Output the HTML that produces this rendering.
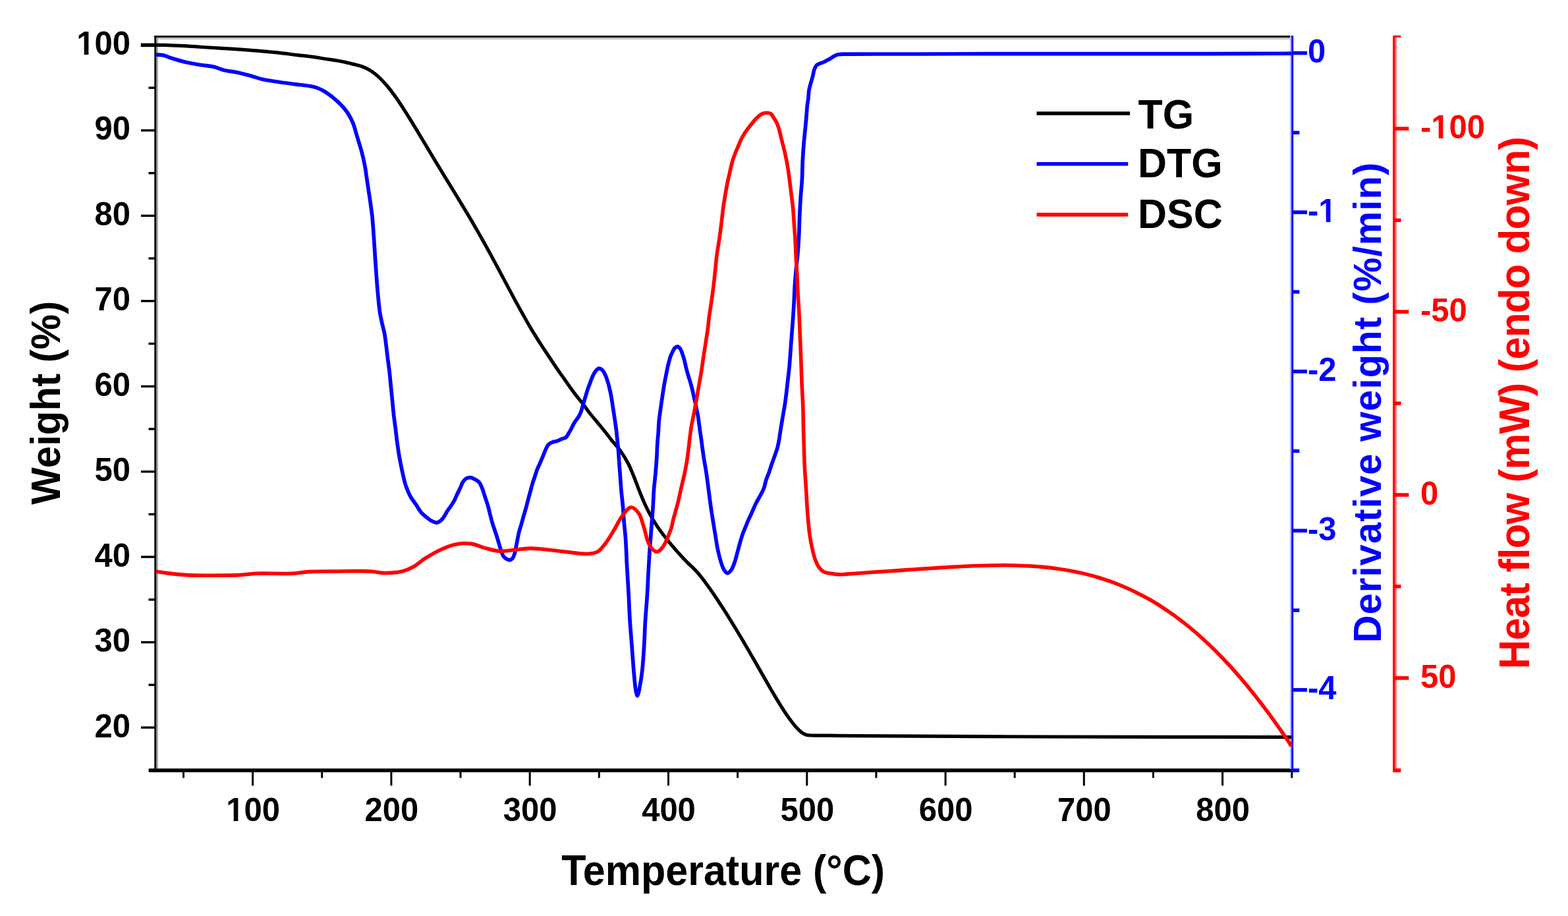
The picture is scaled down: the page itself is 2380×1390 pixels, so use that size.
<!DOCTYPE html>
<html><head><meta charset="utf-8"><title>TG / DTG / DSC</title>
<style>
html,body{margin:0;padding:0;background:#fff;}
body{width:2380px;height:1390px;overflow:hidden;}
svg{display:block;}
</style></head>
<body>
<svg width="2380" height="1390" viewBox="0 0 2380 1390">
<rect width="2380" height="1390" fill="#fff"/>
<rect x="234" y="57" width="1726" height="3" fill="#c8c8c8"/>
<rect x="234" y="54" width="1727" height="3" fill="#000"/>
<rect x="237" y="57" width="3" height="1109" fill="#a8a8a8"/>
<rect x="234.3" y="54" width="2.9" height="1118" fill="#000"/>
<rect x="226" y="1166.2" width="1737" height="5.6" fill="#000"/>
<rect x="225.5" y="1167.0" width="10" height="3.4" fill="#000"/>
<rect x="214" y="1102.3" width="21" height="3.4" fill="#000"/>
<rect x="225.5" y="1037.6" width="10" height="3.4" fill="#000"/>
<rect x="214" y="972.9" width="21" height="3.4" fill="#000"/>
<rect x="225.5" y="908.2" width="10" height="3.4" fill="#000"/>
<rect x="214" y="843.4" width="21" height="3.4" fill="#000"/>
<rect x="225.5" y="778.7" width="10" height="3.4" fill="#000"/>
<rect x="214" y="714.0" width="21" height="3.4" fill="#000"/>
<rect x="225.5" y="649.3" width="10" height="3.4" fill="#000"/>
<rect x="214" y="584.6" width="21" height="3.4" fill="#000"/>
<rect x="225.5" y="519.8" width="10" height="3.4" fill="#000"/>
<rect x="214" y="455.1" width="21" height="3.4" fill="#000"/>
<rect x="225.5" y="390.4" width="10" height="3.4" fill="#000"/>
<rect x="214" y="325.7" width="21" height="3.4" fill="#000"/>
<rect x="225.5" y="261.0" width="10" height="3.4" fill="#000"/>
<rect x="214" y="196.2" width="21" height="3.4" fill="#000"/>
<rect x="225.5" y="131.5" width="10" height="3.4" fill="#000"/>
<rect x="213.8" y="65.6" width="22" height="5.6" fill="#000"/>
<rect x="277.0" y="1171" width="3" height="9.5" fill="#000"/>
<rect x="382.1" y="1171" width="3" height="21.3" fill="#000"/>
<rect x="487.2" y="1171" width="3" height="9.5" fill="#000"/>
<rect x="592.4" y="1171" width="3" height="21.3" fill="#000"/>
<rect x="697.5" y="1171" width="3" height="9.5" fill="#000"/>
<rect x="802.7" y="1171" width="3" height="21.3" fill="#000"/>
<rect x="907.8" y="1171" width="3" height="9.5" fill="#000"/>
<rect x="1013.0" y="1171" width="3" height="21.3" fill="#000"/>
<rect x="1118.1" y="1171" width="3" height="9.5" fill="#000"/>
<rect x="1223.3" y="1171" width="3" height="21.3" fill="#000"/>
<rect x="1328.4" y="1171" width="3" height="9.5" fill="#000"/>
<rect x="1433.6" y="1171" width="3" height="21.3" fill="#000"/>
<rect x="1538.7" y="1171" width="3" height="9.5" fill="#000"/>
<rect x="1643.8" y="1171" width="3" height="21.3" fill="#000"/>
<rect x="1749.0" y="1171" width="3" height="9.5" fill="#000"/>
<rect x="1854.1" y="1171" width="3" height="21.3" fill="#000"/>
<rect x="1959.3" y="1171" width="3" height="9.5" fill="#000"/>
<rect x="1958" y="54" width="2.4" height="1113" fill="#b4b4ff"/>
<rect x="1960.2" y="54" width="3" height="1117.5" fill="#0000ff"/>
<rect x="1960.2" y="1166.2" width="12" height="5.6" fill="#0000ff"/>
<rect x="1962" y="77.7" width="22" height="5.6" fill="#0000ff"/>
<rect x="1962" y="198.6" width="10.4" height="5.4" fill="#0000ff"/>
<rect x="1962" y="319.3" width="22" height="5.6" fill="#0000ff"/>
<rect x="1962" y="440.2" width="10.4" height="5.4" fill="#0000ff"/>
<rect x="1962" y="560.9" width="22" height="5.6" fill="#0000ff"/>
<rect x="1962" y="681.8" width="10.4" height="5.4" fill="#0000ff"/>
<rect x="1962" y="802.5" width="22" height="5.6" fill="#0000ff"/>
<rect x="1962" y="923.4" width="10.4" height="5.4" fill="#0000ff"/>
<rect x="1962" y="1044.1" width="22" height="5.6" fill="#0000ff"/>
<rect x="2117" y="54" width="3" height="1118" fill="#ff8080"/>
<rect x="2114.1" y="54" width="3.3" height="1118" fill="#ff0000"/>
<rect x="2117" y="53.8" width="9.3" height="3" fill="#ff0000"/>
<rect x="2117" y="192.4" width="21.3" height="5.6" fill="#ff0000"/>
<rect x="2117" y="331.5" width="9.5" height="5.4" fill="#ff0000"/>
<rect x="2117" y="470.3" width="21.3" height="5.6" fill="#ff0000"/>
<rect x="2117" y="609.3" width="9.5" height="5.4" fill="#ff0000"/>
<rect x="2117" y="748.2" width="21.3" height="5.6" fill="#ff0000"/>
<rect x="2117" y="887.2" width="9.5" height="5.4" fill="#ff0000"/>
<rect x="2117" y="1026.1" width="21.3" height="5.6" fill="#ff0000"/>
<rect x="2117" y="1166.1" width="9.3" height="5.8" fill="#ff0000"/>
<g fill="none" stroke-linejoin="round" stroke-linecap="butt">
<path d="M237.0,68.3 C241.1,68.3 244.3,68.3 249.3,68.4 C257.2,68.6 270.1,69.1 280.0,69.6 C289.4,70.1 296.9,70.8 307.3,71.5 C321.0,72.4 340.3,73.4 355.2,74.4 C368.3,75.3 380.6,76.2 392.2,77.2 C402.6,78.1 412.0,78.9 421.6,79.9 C431.0,80.9 440.4,82.2 449.3,83.3 C457.7,84.3 466.1,85.0 473.7,86.1 C480.5,87.0 486.6,88.2 493.0,89.2 C499.2,90.2 505.8,91.0 511.5,92.0 C516.4,92.8 521.1,93.7 525.0,94.6 C528.0,95.3 530.3,96.0 533.0,96.6 C535.7,97.2 538.3,97.7 541.0,98.4 C543.7,99.1 546.4,99.8 549.0,100.7 C551.7,101.7 554.4,102.8 557.0,104.1 C559.7,105.5 562.4,107.0 565.0,108.8 C567.7,110.7 570.4,112.8 573.0,115.1 C575.7,117.5 578.4,120.1 581.0,122.9 C583.7,125.8 586.4,128.8 589.0,132.0 C591.7,135.3 594.4,138.8 597.0,142.4 C599.7,146.1 602.4,149.8 605.0,153.7 C607.7,157.6 610.4,161.7 613.0,165.8 C615.7,170.0 618.3,174.2 621.0,178.5 C623.7,182.8 626.3,187.2 629.0,191.6 C631.7,196.0 634.3,200.4 637.0,204.8 C639.7,209.2 642.3,213.7 645.0,218.2 C647.7,222.6 650.3,227.1 653.0,231.5 C655.7,235.9 658.3,240.4 661.0,244.8 C663.7,249.2 666.3,253.6 669.0,258.0 C671.7,262.4 674.3,266.7 677.0,271.1 C679.7,275.4 682.3,279.8 685.0,284.1 C687.7,288.5 690.3,292.8 693.0,297.2 C695.7,301.6 698.3,306.0 701.0,310.4 C703.7,314.8 706.3,319.2 709.0,323.7 C711.7,328.2 714.3,332.7 717.0,337.2 C719.7,341.8 722.3,346.4 725.0,351.0 C727.7,355.7 730.3,360.4 733.0,365.1 C735.7,369.9 738.3,374.7 741.0,379.5 C743.7,384.4 746.3,389.3 749.0,394.2 C751.7,399.1 754.3,404.1 757.0,409.1 C759.7,414.1 762.3,419.1 765.0,424.1 C767.7,429.1 770.3,434.1 773.0,439.1 C775.7,444.1 778.3,449.1 781.0,454.1 C783.7,459.0 786.3,463.9 789.0,468.7 C791.7,473.5 794.3,478.3 797.0,483.0 C799.6,487.7 802.3,492.3 805.0,496.8 C807.6,501.3 810.3,505.7 813.0,510.0 C815.6,514.3 818.3,518.5 821.0,522.7 C823.6,526.8 825.8,530.1 829.0,534.8 C833.5,541.6 840.8,552.7 845.5,559.5 C848.9,564.5 851.5,567.9 854.5,572.2 C857.5,576.5 860.6,580.9 863.6,585.2 C866.6,589.4 869.3,593.2 872.6,597.6 C876.5,602.7 881.8,609.0 885.6,614.0 C888.6,618.0 890.6,621.2 893.6,625.0 C897.0,629.4 901.3,634.4 905.1,639.0 C908.9,643.6 912.8,648.1 916.6,652.8 C920.5,657.7 924.2,662.8 928.2,667.8 C932.3,672.9 937.0,677.5 941.1,683.2 C945.6,689.4 950.0,696.6 953.7,703.7 C957.4,710.8 960.2,718.6 963.2,725.9 C966.0,732.9 968.4,739.8 971.1,746.5 C973.7,753.0 976.3,759.5 979.1,765.5 C981.7,771.1 984.1,776.1 987.0,781.3 C989.9,786.6 993.0,791.8 996.5,797.1 C1000.3,802.8 1004.9,809.0 1009.1,814.5 C1013.1,819.7 1017.9,825.3 1021.2,829.2 C1023.4,831.9 1025.0,833.7 1026.9,835.9 C1028.8,838.1 1030.7,840.1 1032.7,842.2 C1034.8,844.4 1036.9,846.9 1039.0,849.1 C1041.1,851.3 1043.1,853.4 1045.3,855.5 C1047.5,857.6 1049.9,859.5 1052.2,861.8 C1054.8,864.4 1057.6,867.4 1060.0,870.2 C1062.2,872.7 1064.0,875.1 1066.0,877.7 C1068.0,880.3 1070.0,883.0 1072.0,885.7 C1074.0,888.5 1076.0,891.3 1078.0,894.1 C1080.0,897.0 1082.0,899.9 1084.0,902.8 C1086.0,905.7 1088.0,908.7 1090.0,911.7 C1092.0,914.7 1094.0,917.8 1096.0,920.9 C1098.0,924.0 1100.0,927.1 1102.0,930.2 C1104.0,933.4 1106.0,936.6 1108.0,939.8 C1110.0,943.0 1112.0,946.3 1114.0,949.6 C1116.0,952.9 1118.0,956.2 1120.0,959.5 C1122.0,962.8 1124.0,966.1 1126.0,969.5 C1128.0,972.9 1130.0,976.3 1132.0,979.7 C1134.0,983.1 1136.0,986.6 1138.0,990.0 C1140.0,993.5 1142.0,996.9 1144.0,1000.4 C1146.0,1003.9 1148.0,1007.4 1150.0,1010.9 C1152.0,1014.4 1154.0,1017.9 1156.0,1021.4 C1158.0,1024.9 1160.0,1028.4 1162.0,1031.9 C1164.0,1035.4 1166.0,1038.9 1168.0,1042.4 C1170.0,1045.8 1172.0,1049.2 1174.0,1052.6 C1176.0,1056.0 1178.0,1059.4 1180.0,1062.7 C1182.0,1066.0 1184.0,1069.2 1186.0,1072.4 C1188.0,1075.5 1190.0,1078.7 1192.0,1081.7 C1194.0,1084.6 1196.0,1087.5 1198.0,1090.3 C1200.0,1093.0 1202.0,1095.7 1204.0,1098.2 C1206.0,1100.6 1207.8,1103.0 1210.0,1105.2 C1212.3,1107.5 1214.9,1110.2 1217.4,1111.9 C1219.4,1113.3 1221.2,1114.2 1223.4,1114.9 C1226.0,1115.7 1228.3,1115.8 1232.0,1116.0 C1238.6,1116.4 1249.8,1116.1 1260.0,1116.2 C1272.1,1116.3 1280.5,1116.5 1300.0,1116.6 C1353.5,1117.0 1495.4,1117.7 1600.0,1118.0 C1714.5,1118.4 1840.0,1118.4 1960.0,1118.6" stroke="#000000" stroke-width="5.2"/>
<path d="M237.0,83.1 C240.3,83.3 243.3,82.9 246.8,83.6 C251.0,84.4 255.3,86.7 260.3,88.3 C266.3,90.2 273.5,92.4 280.4,94.0 C287.5,95.7 295.0,97.0 302.3,98.2 C309.6,99.4 317.4,99.7 324.1,101.3 C330.1,102.7 335.1,105.4 340.9,106.8 C346.9,108.2 353.0,108.4 359.4,109.7 C366.4,111.1 374.5,113.3 381.3,115.2 C387.3,116.9 391.9,118.8 398.1,120.3 C405.6,122.1 414.9,123.2 423.3,124.5 C431.7,125.7 440.1,126.7 448.5,127.8 C456.9,128.9 467.8,130.0 473.7,131.2 C477.0,131.9 478.7,132.3 481.3,133.3 C484.2,134.4 487.4,135.9 490.4,137.6 C493.5,139.3 496.4,141.3 499.4,143.4 C502.5,145.6 505.5,148.0 508.5,150.6 C511.6,153.2 514.7,156.1 517.5,159.0 C520.3,161.9 522.9,164.8 525.3,168.0 C527.7,171.3 529.9,174.8 531.8,178.4 C533.8,182.1 535.5,186.0 537.0,190.0 C538.5,194.2 539.5,198.7 540.8,203.0 C542.1,207.3 543.4,211.6 544.7,215.9 C546.0,220.2 547.4,224.6 548.6,228.9 C549.8,233.2 550.8,237.5 551.8,241.8 C552.8,246.1 553.6,250.3 554.4,254.8 C555.2,259.5 555.7,264.2 556.5,269.4 C557.4,275.4 558.4,282.3 559.4,288.8 C560.4,295.3 561.4,301.8 562.3,308.3 C563.2,314.8 564.1,320.6 564.9,327.7 C565.8,336.4 566.5,347.1 567.2,356.8 C567.9,366.5 568.5,376.2 569.1,385.9 C569.8,395.6 570.4,405.3 571.1,415.0 C571.8,424.7 572.5,434.5 573.4,444.2 C574.3,453.9 575.2,464.6 576.5,473.3 C577.6,480.4 579.1,486.9 580.4,492.7 C581.5,497.6 582.7,501.4 583.6,506.0 C584.5,511.0 585.1,516.0 585.8,521.6 C586.7,528.2 587.5,535.9 588.4,543.1 C589.3,550.3 590.4,557.5 591.2,564.7 C592.0,571.9 592.6,579.1 593.3,586.3 C594.0,593.5 594.8,600.6 595.5,607.8 C596.2,615.0 596.8,622.2 597.6,629.4 C598.4,636.6 599.5,643.7 600.4,650.9 C601.3,658.1 602.0,665.3 603.0,672.5 C604.0,679.7 605.0,686.9 606.3,694.1 C607.6,701.3 609.0,708.4 610.6,715.6 C612.2,722.8 613.8,730.7 616.0,737.2 C617.9,742.8 619.8,747.6 622.4,752.3 C624.9,756.9 628.2,760.9 631.1,765.2 C634.0,769.5 636.6,774.6 639.7,778.2 C642.4,781.2 645.6,783.5 648.3,785.6 C650.5,787.4 652.2,789.0 654.5,790.2 C656.9,791.5 660.1,793.3 662.6,793.1 C664.9,793.0 667.1,791.4 669.0,789.9 C671.1,788.3 672.8,785.7 674.4,783.4 C676.0,781.0 677.1,778.3 678.7,775.8 C680.3,773.2 682.3,770.9 684.1,768.3 C685.9,765.6 687.9,762.7 689.5,759.7 C691.2,756.6 692.4,753.0 693.9,749.9 C695.3,746.9 696.8,744.3 698.2,741.3 C699.7,738.2 700.7,734.3 702.5,731.6 C704.0,729.3 705.8,727.1 707.9,725.9 C709.8,724.8 712.3,724.4 714.4,724.6 C716.6,724.8 718.7,726.2 720.8,727.3 C723.0,728.5 725.5,729.8 727.3,731.8 C729.2,734.0 730.4,737.3 731.6,740.2 C732.9,743.3 733.8,746.7 734.9,749.9 C736.0,753.2 737.0,756.4 738.1,759.7 C739.2,763.2 740.4,766.6 741.4,770.4 C742.5,774.5 743.5,779.2 744.6,783.4 C745.6,787.5 746.7,791.6 747.8,795.3 C748.8,798.7 750.0,801.8 751.1,805.0 C752.2,808.2 753.3,811.4 754.3,814.7 C755.4,818.2 756.4,821.9 757.5,825.5 C758.6,829.1 759.6,833.0 760.8,836.3 C761.8,839.1 762.5,841.8 764.0,843.9 C765.4,845.8 767.6,847.4 769.4,848.4 C770.8,849.2 772.3,850.0 773.7,849.8 C775.2,849.6 776.9,848.5 778.1,847.1 C779.6,845.3 780.4,842.3 781.3,839.5 C782.3,836.3 782.8,832.3 783.5,828.7 C784.2,825.1 784.9,821.6 785.6,818.0 C786.3,814.4 786.9,810.8 787.8,807.2 C788.7,803.5 790.1,799.8 791.2,796.0 C792.3,792.1 793.3,788.1 794.5,784.0 C795.8,779.5 797.4,774.5 798.6,770.1 C799.7,766.1 800.5,762.5 801.5,758.6 C802.6,754.5 803.8,750.1 805.0,745.9 C806.1,741.7 807.2,737.2 808.4,733.2 C809.5,729.6 810.8,726.3 811.9,722.9 C813.1,719.4 814.0,715.8 815.3,712.5 C816.5,709.3 818.1,706.3 819.4,703.3 C820.6,700.5 821.7,697.9 822.8,695.3 C823.8,692.9 824.7,690.7 825.7,688.3 C826.8,685.7 827.9,682.7 829.1,680.3 C830.2,678.2 831.1,676.0 832.6,674.5 C834.1,673.0 836.2,671.9 838.3,671.1 C840.5,670.2 842.9,670.2 845.3,669.4 C847.9,668.5 850.8,666.9 853.3,665.9 C855.4,665.0 857.6,664.9 859.1,663.6 C860.6,662.4 861.4,660.2 862.5,658.4 C863.7,656.5 864.9,654.7 866.2,652.4 C868.0,649.3 869.9,644.6 871.9,641.3 C873.7,638.3 876.0,636.0 877.7,633.2 C879.3,630.6 880.5,628.2 881.7,625.2 C883.1,621.8 884.0,617.5 885.1,613.7 C886.3,609.9 887.4,606.0 888.6,602.2 C889.8,598.3 890.9,594.2 892.1,590.6 C893.2,587.3 894.3,584.5 895.5,581.4 C896.8,578.1 898.0,574.3 899.5,571.1 C900.9,568.2 902.3,565.1 904.1,563.0 C905.6,561.3 907.5,559.3 909.3,559.2 C911.0,559.1 913.0,560.5 914.5,561.9 C916.4,563.7 917.7,566.9 919.1,569.9 C920.7,573.3 921.9,577.5 923.1,581.4 C924.2,585.2 925.1,589.1 926.0,593.0 C926.9,596.8 927.6,600.7 928.3,604.5 C929.0,608.3 929.4,612.2 930.0,616.0 C930.6,619.8 931.2,623.7 931.8,627.5 C932.4,631.3 932.9,635.2 933.5,639.0 C934.1,642.8 934.7,646.7 935.2,650.5 C935.7,654.3 936.0,657.9 936.4,662.0 C936.9,666.9 937.6,672.6 938.1,678.0 C938.6,683.5 938.9,688.5 939.3,694.5 C939.8,701.8 940.5,710.8 941.1,718.9 C941.7,727.1 942.2,735.2 942.9,743.4 C943.6,751.5 944.7,759.7 945.4,767.8 C946.1,776.0 946.5,784.1 947.2,792.3 C947.9,800.4 948.9,809.1 949.5,816.7 C950.0,823.2 950.2,828.6 950.5,835.0 C950.9,842.1 951.0,848.6 951.5,857.4 C952.2,870.2 953.5,889.5 954.3,904.2 C955.0,917.4 955.3,929.2 956.1,941.7 C956.9,954.2 958.0,966.6 959.0,979.1 C959.9,991.6 960.8,1004.9 961.8,1016.5 C962.7,1026.6 963.6,1038.4 964.6,1045.0 C965.1,1048.5 965.6,1051.0 966.2,1053.0 C966.6,1054.3 967.0,1056.0 967.4,1056.0 C967.8,1056.0 968.3,1054.3 968.7,1053.0 C969.4,1051.0 969.9,1048.5 970.6,1045.0 C971.9,1038.4 973.8,1026.7 974.9,1016.5 C976.2,1004.9 976.9,991.6 977.7,979.1 C978.5,966.6 978.7,954.2 979.5,941.7 C980.3,929.2 981.5,916.7 982.3,904.2 C983.1,891.7 983.6,878.5 984.2,866.8 C984.8,856.6 985.3,846.9 985.9,838.0 C986.4,830.4 987.0,824.0 987.6,816.7 C988.2,808.8 988.8,800.4 989.4,792.3 C990.0,784.1 990.7,776.0 991.2,767.8 C991.7,759.7 991.9,751.5 992.5,743.4 C993.1,735.2 994.2,727.1 994.9,718.9 C995.6,710.8 996.3,702.5 996.8,694.5 C997.3,686.9 997.4,678.8 997.9,672.0 C998.3,666.4 998.8,662.1 999.2,656.8 C999.6,651.0 999.7,644.5 1000.3,638.4 C1000.9,632.3 1001.9,626.1 1002.7,620.1 C1003.5,614.3 1004.3,608.9 1005.2,603.0 C1006.1,596.7 1007.1,589.6 1008.2,583.4 C1009.2,577.8 1010.2,572.7 1011.3,567.5 C1012.3,562.5 1013.3,557.3 1014.4,552.8 C1015.4,548.9 1016.3,545.1 1017.4,541.8 C1018.3,539.1 1019.3,536.8 1020.5,534.5 C1021.6,532.3 1022.6,529.8 1024.1,528.3 C1025.3,527.1 1027.0,525.8 1028.4,525.9 C1029.9,526.1 1031.5,528.0 1032.7,529.6 C1034.1,531.5 1034.8,534.3 1035.8,536.9 C1036.9,539.9 1037.9,543.3 1038.8,546.7 C1039.7,550.2 1040.4,554.0 1041.3,557.7 C1042.2,561.4 1043.3,565.1 1044.3,568.7 C1045.3,572.1 1046.4,575.1 1047.4,578.5 C1048.4,582.1 1049.5,585.8 1050.4,589.5 C1051.3,593.2 1052.0,596.3 1052.9,600.5 C1054.1,606.1 1056.0,614.3 1057.2,620.1 C1058.1,624.6 1058.9,627.8 1059.6,632.3 C1060.5,637.8 1061.3,644.9 1062.1,650.7 C1062.8,656.0 1063.5,660.2 1064.3,665.9 C1065.3,673.4 1066.5,683.2 1067.8,691.8 C1069.1,700.5 1070.8,709.1 1072.1,717.8 C1073.4,726.4 1074.4,735.1 1075.6,743.7 C1076.7,752.3 1077.8,761.3 1079.0,769.6 C1080.1,777.3 1081.3,784.7 1082.5,792.0 C1083.6,799.1 1084.7,805.9 1085.9,812.8 C1087.0,819.7 1088.0,826.9 1089.4,833.5 C1090.7,839.6 1092.0,845.4 1093.7,850.8 C1095.2,855.7 1096.7,861.3 1098.9,864.6 C1100.4,867.0 1102.3,869.7 1104.1,869.8 C1106.0,869.9 1108.4,866.9 1110.1,864.6 C1112.3,861.6 1113.8,856.8 1115.3,852.5 C1117.0,847.7 1118.2,842.2 1119.6,837.0 C1121.0,831.8 1122.4,826.4 1123.9,821.4 C1125.3,816.6 1126.7,811.8 1128.3,807.6 C1129.7,803.9 1131.2,800.7 1132.6,797.2 C1134.0,793.8 1135.5,789.9 1136.9,786.9 C1138.0,784.5 1139.1,782.5 1140.0,780.5 C1140.8,778.7 1141.4,777.3 1142.3,775.2 C1143.6,772.2 1145.4,767.8 1147.2,764.2 C1149.0,760.5 1151.3,757.0 1153.3,753.2 C1155.4,749.3 1157.8,745.3 1159.4,741.0 C1161.0,736.7 1161.7,731.7 1163.1,727.5 C1164.4,723.6 1166.1,720.2 1167.4,716.5 C1168.7,712.9 1169.7,709.3 1171.0,705.5 C1172.3,701.5 1173.9,697.4 1175.3,693.3 C1176.7,689.2 1178.4,685.4 1179.6,681.1 C1180.9,676.5 1181.8,671.4 1182.7,666.4 C1183.6,661.2 1184.2,656.3 1185.1,650.6 C1186.2,644.0 1187.5,636.1 1188.7,629.0 C1189.9,622.0 1191.1,615.6 1192.1,608.3 C1193.3,600.2 1194.2,591.0 1195.2,582.4 C1196.2,573.8 1197.2,565.8 1198.1,556.6 C1199.1,545.9 1199.8,533.6 1200.7,522.1 C1201.6,510.6 1202.5,498.3 1203.3,487.6 C1204.0,478.4 1204.5,470.3 1205.0,461.7 C1205.5,453.1 1205.7,444.6 1206.2,436.0 C1206.7,427.4 1207.4,418.6 1208.2,410.0 C1209.0,401.5 1210.2,393.3 1210.9,384.6 C1211.7,375.5 1212.2,365.9 1212.7,356.5 C1213.2,347.1 1213.3,337.8 1213.7,328.4 C1214.1,319.1 1214.6,309.7 1215.2,300.4 C1215.8,291.0 1216.9,281.7 1217.4,272.3 C1217.9,262.9 1217.8,253.6 1218.3,244.2 C1218.8,234.8 1219.4,225.5 1220.2,216.1 C1221.0,206.8 1222.2,196.4 1223.0,188.1 C1223.6,181.4 1224.1,175.1 1224.5,170.0 C1224.8,166.2 1224.9,163.4 1225.3,160.0 C1225.7,156.4 1226.5,152.8 1226.9,149.1 C1227.3,145.2 1227.3,141.0 1227.9,137.2 C1228.5,133.6 1229.5,130.5 1230.4,127.0 C1231.4,123.4 1232.7,119.5 1233.6,115.9 C1234.5,112.4 1234.9,108.6 1236.0,105.6 C1236.9,103.1 1237.9,100.6 1239.5,99.0 C1241.0,97.5 1243.3,96.9 1245.1,96.1 C1246.7,95.4 1248.3,95.2 1249.8,94.5 C1251.4,93.8 1252.9,93.0 1254.5,92.1 C1256.3,91.1 1258.3,90.1 1260.1,89.0 C1262.0,87.9 1263.6,86.4 1265.6,85.4 C1267.6,84.3 1269.3,83.3 1272.0,82.7 C1276.4,81.7 1282.8,82.3 1290.0,82.2 C1300.7,82.0 1314.8,82.0 1330.0,82.0 C1350.1,81.9 1374.6,82.1 1400.0,82.0 C1430.4,81.9 1466.7,81.7 1500.0,81.6 C1533.3,81.5 1566.7,81.6 1600.0,81.6 C1633.3,81.6 1666.7,81.6 1700.0,81.6 C1733.3,81.6 1766.7,81.6 1800.0,81.6 C1833.3,81.6 1870.9,81.5 1900.0,81.4 C1922.5,81.3 1940.0,81.3 1960.0,81.2" stroke="#0000ff" stroke-width="5.7"/>
<path d="M237.1,867.3 C242.4,868.1 246.8,868.8 252.9,869.6 C261.3,870.6 272.5,872.0 282.9,872.6 C294.2,873.3 305.8,873.2 318.2,873.2 C332.1,873.2 349.5,873.2 362.3,872.6 C372.3,872.1 378.4,870.7 388.8,870.3 C403.4,869.7 427.2,871.0 441.8,870.3 C452.1,869.8 458.3,868.2 468.2,867.6 C481.0,866.9 497.2,867.1 512.3,867.0 C528.3,866.9 548.8,866.2 561.8,867.0 C570.3,867.5 575.5,869.4 582.9,869.5 C591.2,869.6 601.6,869.1 609.4,867.3 C616.0,865.8 621.2,863.4 627.0,860.3 C633.3,856.9 638.9,851.4 645.5,847.2 C652.7,842.7 660.9,837.8 668.8,834.2 C676.4,830.7 684.2,827.4 692.1,825.9 C699.8,824.4 707.9,824.1 715.4,825.1 C722.6,826.1 729.2,829.7 736.2,831.6 C743.1,833.5 749.6,835.8 756.9,836.3 C765.0,836.9 774.4,834.9 782.8,834.2 C790.8,833.5 798.1,832.1 806.1,832.1 C814.5,832.1 823.4,833.3 832.0,834.2 C840.6,835.1 848.7,836.3 857.9,837.3 C868.4,838.4 882.7,841.1 891.8,840.5 C898.0,840.1 902.7,839.7 907.3,837.1 C912.3,834.2 916.2,828.3 920.3,822.9 C924.9,816.8 929.2,808.9 933.2,802.2 C936.9,796.0 939.5,789.5 943.6,784.1 C947.7,778.8 953.2,770.1 957.8,769.8 C961.8,769.6 966.3,774.7 969.4,778.9 C973.2,784.0 974.7,792.3 977.2,799.6 C979.9,807.7 981.3,818.9 985.0,825.5 C987.8,830.5 992.3,836.0 995.3,837.1 C997.0,837.7 998.5,837.1 1000.0,836.3 C1001.9,835.3 1003.8,833.0 1005.5,830.8 C1007.5,828.2 1009.3,824.5 1010.9,821.3 C1012.5,818.2 1013.7,815.0 1015.0,811.7 C1016.4,808.2 1018.0,804.6 1019.1,800.8 C1020.3,796.9 1020.9,792.6 1021.9,788.5 C1022.9,784.4 1024.2,780.3 1025.3,776.2 C1026.4,772.1 1027.6,768.2 1028.7,763.9 C1029.9,759.1 1031.0,753.8 1032.1,748.8 C1033.2,743.8 1034.4,738.8 1035.5,733.8 C1036.7,728.8 1037.9,724.0 1039.0,718.8 C1040.2,713.1 1041.4,707.1 1042.4,701.0 C1043.5,694.5 1044.3,687.5 1045.1,681.0 C1045.9,674.8 1046.5,668.7 1047.2,663.0 C1047.9,657.8 1048.4,653.2 1049.2,648.2 C1050.1,643.0 1051.3,637.6 1052.3,632.3 C1053.3,627.0 1054.3,621.8 1055.3,616.4 C1056.3,610.8 1057.4,605.1 1058.4,599.3 C1059.5,593.3 1060.5,586.7 1061.5,581.0 C1062.4,576.0 1063.2,572.1 1064.1,566.8 C1065.2,560.0 1066.4,551.2 1067.5,543.6 C1068.6,536.3 1069.7,529.3 1070.8,522.1 C1071.9,514.9 1073.1,507.8 1074.1,500.6 C1075.1,493.4 1075.6,486.3 1076.6,479.1 C1077.6,471.9 1078.8,465.0 1079.9,457.5 C1081.0,449.5 1082.2,440.8 1083.2,432.7 C1084.1,424.8 1084.9,417.2 1085.7,409.5 C1086.5,401.8 1087.1,394.0 1088.1,386.4 C1089.1,379.1 1090.5,371.6 1091.5,364.8 C1092.4,358.7 1093.2,353.1 1093.9,347.4 C1094.6,341.9 1095.2,336.6 1095.9,331.0 C1096.6,325.2 1097.2,319.0 1098.0,313.2 C1098.8,307.6 1099.8,302.3 1100.7,296.8 C1101.6,291.3 1102.4,285.7 1103.5,280.4 C1104.5,275.2 1105.8,270.1 1106.9,265.3 C1107.9,261.0 1108.6,257.1 1109.6,253.0 C1110.6,248.9 1111.7,244.6 1113.0,240.7 C1114.2,236.9 1115.7,233.3 1117.1,229.8 C1118.4,226.5 1119.8,223.4 1121.2,220.2 C1122.6,217.0 1123.9,213.6 1125.4,210.6 C1126.9,207.7 1128.5,205.0 1130.1,202.4 C1131.6,200.0 1133.3,197.8 1134.9,195.6 C1136.5,193.5 1138.0,191.5 1139.7,189.4 C1141.5,187.2 1143.3,184.7 1145.2,182.6 C1147.0,180.6 1148.8,178.7 1150.7,177.1 C1152.5,175.6 1154.1,174.0 1156.1,173.0 C1158.2,172.0 1160.7,171.3 1163.0,171.2 C1165.3,171.1 1167.9,171.3 1169.8,172.5 C1171.8,173.7 1173.0,176.5 1174.4,178.7 C1175.9,180.9 1177.3,183.1 1178.5,185.5 C1179.8,188.1 1180.7,190.4 1181.8,193.7 C1183.4,198.6 1184.9,206.2 1186.5,212.4 C1188.1,218.6 1189.8,224.9 1191.2,231.1 C1192.6,237.3 1193.9,243.5 1195.0,249.8 C1196.1,256.0 1196.9,262.1 1197.8,268.6 C1198.8,275.7 1199.7,283.5 1200.6,291.0 C1201.5,298.5 1202.6,305.8 1203.4,313.5 C1204.2,321.4 1204.6,329.4 1205.2,337.8 C1205.8,346.8 1206.6,356.5 1207.1,365.9 C1207.6,375.3 1207.9,385.0 1208.4,394.0 C1208.9,402.4 1209.5,410.0 1209.9,418.3 C1210.3,426.9 1210.5,435.2 1211.0,444.5 C1211.6,455.2 1212.5,467.5 1213.1,479.0 C1213.7,490.5 1214.0,501.9 1214.5,513.4 C1215.0,524.9 1215.5,536.4 1215.9,547.9 C1216.3,559.4 1216.6,570.9 1217.1,582.4 C1217.6,593.9 1218.4,605.5 1218.8,616.9 C1219.2,628.0 1219.2,639.8 1219.5,650.0 C1219.7,658.8 1219.9,665.6 1220.2,674.5 C1220.5,685.0 1220.8,697.5 1221.4,709.0 C1222.0,720.5 1222.9,731.9 1223.6,743.4 C1224.3,754.9 1224.8,766.4 1225.7,777.9 C1226.6,789.4 1227.6,802.2 1229.1,812.4 C1230.3,820.7 1231.8,828.1 1233.4,834.8 C1234.7,840.5 1236.0,845.7 1237.8,850.3 C1239.3,854.2 1240.8,857.8 1242.9,860.7 C1244.8,863.4 1247.3,865.9 1249.8,867.4 C1252.0,868.7 1254.4,869.1 1256.7,869.6 C1259.0,870.1 1261.0,870.3 1263.6,870.6 C1266.9,871.0 1271.2,871.7 1274.9,871.8 C1278.4,871.9 1281.1,871.4 1285.0,871.1 C1290.5,870.7 1298.3,870.2 1305.0,869.7 C1311.7,869.2 1318.3,868.8 1325.0,868.3 C1331.7,867.9 1338.3,867.4 1345.0,867.0 C1351.7,866.5 1358.3,866.1 1365.0,865.6 C1371.7,865.1 1378.3,864.7 1385.0,864.2 C1391.7,863.8 1398.3,863.3 1405.0,862.9 C1411.7,862.5 1418.3,862.0 1425.0,861.6 C1431.7,861.2 1438.3,860.8 1445.0,860.4 C1451.7,860.0 1458.3,859.6 1465.0,859.3 C1471.7,859.0 1478.3,858.7 1485.0,858.5 C1491.7,858.3 1498.3,858.1 1505.0,858.0 C1511.7,857.9 1518.3,857.8 1525.0,857.8 C1531.7,857.8 1538.3,858.0 1545.0,858.2 C1551.7,858.4 1558.3,858.6 1565.0,859.0 C1571.7,859.4 1578.3,859.9 1585.0,860.6 C1591.7,861.3 1598.3,862.1 1605.0,863.0 C1611.7,863.9 1618.3,865.0 1625.0,866.2 C1631.7,867.4 1638.4,868.8 1645.0,870.4 C1651.7,872.0 1658.4,873.7 1665.0,875.7 C1671.7,877.7 1678.4,879.8 1685.0,882.2 C1691.7,884.6 1698.4,887.2 1705.0,890.0 C1711.7,892.8 1718.4,895.9 1725.0,899.2 C1731.7,902.5 1738.4,906.0 1745.0,909.8 C1751.7,913.6 1758.4,917.8 1765.0,922.1 C1771.7,926.5 1778.4,931.1 1785.0,935.9 C1791.7,940.8 1798.4,946.0 1805.0,951.4 C1811.7,956.9 1818.4,962.7 1825.0,968.7 C1831.7,974.8 1838.4,981.1 1845.0,987.7 C1851.7,994.4 1858.4,1001.4 1865.0,1008.5 C1871.7,1015.8 1878.4,1023.4 1885.0,1031.1 C1891.7,1039.0 1898.4,1047.2 1905.0,1055.5 C1911.7,1064.0 1918.4,1072.8 1925.0,1081.7 C1931.7,1090.8 1939.3,1101.5 1945.0,1109.6 C1949.3,1115.8 1953.5,1121.9 1956.2,1126.0 C1957.8,1128.5 1958.7,1130.0 1960.0,1132.0" stroke="#ff0000" stroke-width="5.6"/>
</g>
<rect x="1573.5" y="169.3" width="141.6" height="5.5" fill="#000"/>
<rect x="1573.5" y="246" width="138.7" height="5.6" fill="#0000ff"/>
<rect x="1573.5" y="322.8" width="138.7" height="5.8" fill="#ff0000"/>
<g font-family="'Liberation Sans', Arial, Helvetica, sans-serif" font-weight="bold">
<text transform="translate(198.0,1118.5) scale(1,1.035)" font-size="49.0" text-anchor="end" fill="#000">20</text>
<text transform="translate(198.0,989.1) scale(1,1.035)" font-size="49.0" text-anchor="end" fill="#000">30</text>
<text transform="translate(198.0,859.6) scale(1,1.035)" font-size="49.0" text-anchor="end" fill="#000">40</text>
<text transform="translate(198.0,730.2) scale(1,1.035)" font-size="49.0" text-anchor="end" fill="#000">50</text>
<text transform="translate(198.0,600.8) scale(1,1.035)" font-size="49.0" text-anchor="end" fill="#000">60</text>
<text transform="translate(198.0,471.3) scale(1,1.035)" font-size="49.0" text-anchor="end" fill="#000">70</text>
<text transform="translate(198.0,341.9) scale(1,1.035)" font-size="49.0" text-anchor="end" fill="#000">80</text>
<text transform="translate(198.0,212.4) scale(1,1.035)" font-size="49.0" text-anchor="end" fill="#000">90</text>
<g transform="translate(198.0,83.0) scale(1,1.035)">
<text font-size="49.0" text-anchor="end" fill="#000">100</text>
<rect x="-79.67" y="-5.70" width="9.35" height="6.40" fill="#fff"/>
<rect x="-63.59" y="-5.70" width="8.73" height="6.40" fill="#fff"/>
</g>
<g transform="translate(384.1,1245.8) scale(1,1.035)">
<text font-size="49.0" text-anchor="middle" fill="#000">100</text>
<rect x="-38.79" y="-5.70" width="9.35" height="6.40" fill="#fff"/>
<rect x="-22.72" y="-5.70" width="8.73" height="6.40" fill="#fff"/>
</g>
<text transform="translate(594.4,1245.8) scale(1,1.035)" font-size="49.0" text-anchor="middle" fill="#000">200</text>
<text transform="translate(804.7,1245.8) scale(1,1.035)" font-size="49.0" text-anchor="middle" fill="#000">300</text>
<text transform="translate(1015.0,1245.8) scale(1,1.035)" font-size="49.0" text-anchor="middle" fill="#000">400</text>
<text transform="translate(1225.3,1245.8) scale(1,1.035)" font-size="49.0" text-anchor="middle" fill="#000">500</text>
<text transform="translate(1435.6,1245.8) scale(1,1.035)" font-size="49.0" text-anchor="middle" fill="#000">600</text>
<text transform="translate(1645.8,1245.8) scale(1,1.035)" font-size="49.0" text-anchor="middle" fill="#000">700</text>
<text transform="translate(1856.1,1245.8) scale(1,1.035)" font-size="49.0" text-anchor="middle" fill="#000">800</text>
<text transform="translate(1985.0,95.0) scale(1,1.035)" font-size="49.0" fill="#0000ff">0</text>
<g transform="translate(1985.0,336.6) scale(1,1.035)">
<text font-size="49.0" fill="#0000ff">-1</text>
<rect x="18.40" y="-5.70" width="9.35" height="6.40" fill="#fff"/>
<rect x="34.48" y="-5.70" width="8.73" height="6.40" fill="#fff"/>
</g>
<text transform="translate(1985.0,578.2) scale(1,1.035)" font-size="49.0" fill="#0000ff">-2</text>
<text transform="translate(1985.0,819.8) scale(1,1.035)" font-size="49.0" fill="#0000ff">-3</text>
<text transform="translate(1985.0,1061.4) scale(1,1.035)" font-size="49.0" fill="#0000ff">-4</text>
<g transform="translate(2156.0,210.2) scale(1,1.035)">
<text font-size="49.0" fill="#ff0000">-100</text>
<rect x="18.40" y="-5.70" width="9.35" height="6.40" fill="#fff"/>
<rect x="34.48" y="-5.70" width="8.73" height="6.40" fill="#fff"/>
</g>
<text transform="translate(2156.0,488.1) scale(1,1.035)" font-size="49.0" fill="#ff0000">-50</text>
<text transform="translate(2156.0,766.0) scale(1,1.035)" font-size="49.0" fill="#ff0000">0</text>
<text transform="translate(2156.0,1043.9) scale(1,1.035)" font-size="49.0" fill="#ff0000">50</text>
<text transform="translate(1097.6,1343.4) scale(1,1.050)" font-size="61.0" text-anchor="middle" fill="#000">Temperature (°C)</text>
<text transform="translate(91.1,611.3) rotate(-90) scale(1,1.040)" font-size="60.0" text-anchor="middle" fill="#000" textLength="309" lengthAdjust="spacing">Weight (%)</text>
<text transform="translate(2095.8,611.1) rotate(-90) scale(1,1.035)" font-size="58.0" text-anchor="middle" fill="#0000ff" textLength="729" lengthAdjust="spacing">Derivative weight (%/min)</text>
<text transform="translate(2321.2,611.2) rotate(-90) scale(1,1.040)" font-size="61.5" text-anchor="middle" fill="#ff0000" textLength="808" lengthAdjust="spacing">Heat flow (mW) (endo down)</text>
<text transform="translate(1727.5,195.2) scale(1,1.045)" font-size="61.0" fill="#000">TG</text>
<text transform="translate(1727.0,269.4) scale(1,1.045)" font-size="61.0" fill="#000">DTG</text>
<text transform="translate(1727.0,345.8) scale(1,1.045)" font-size="61.0" fill="#000">DSC</text>
</g>
</svg>
</body></html>
